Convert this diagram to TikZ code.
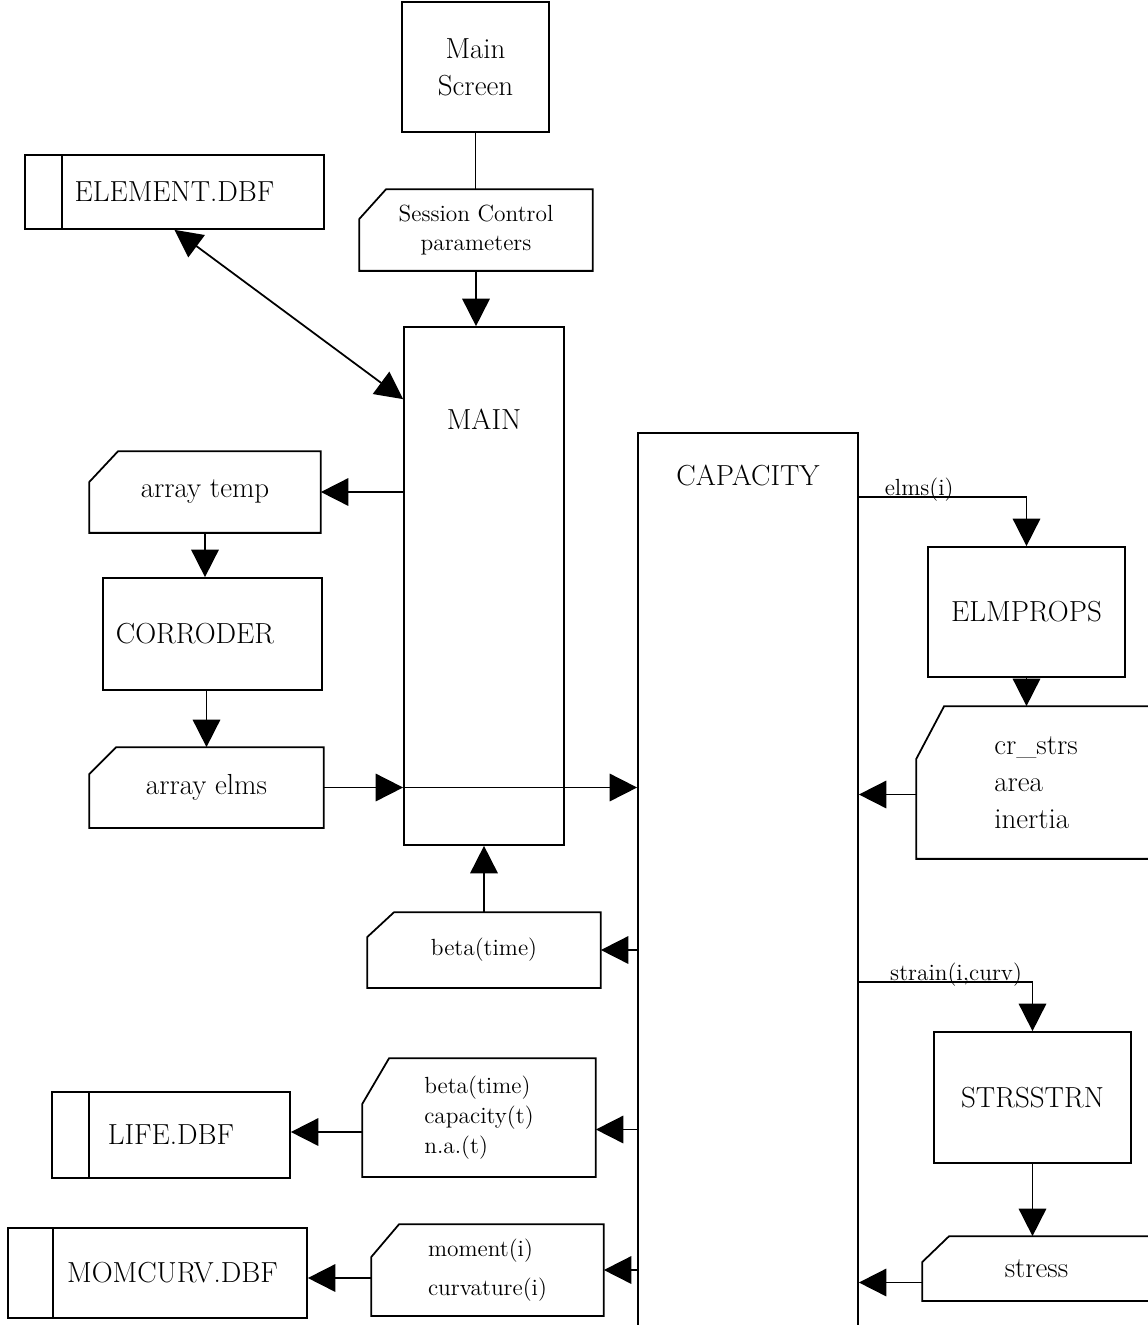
\documentclass[tikz,border=0pt]{standalone}
\usetikzlibrary{arrows.meta}

\tikzset{
	bigtxt/.style={font=\fontsize{16.5}{21}\selectfont},
	smalltxt/.style={font=\fontsize{13.3}{17}\selectfont},
	proc/.style={draw, rectangle, bigtxt},
	datain/.style={rectangle},
	dbfile/.style={draw, rectangle, bigtxt,
		path picture={\draw ([xshift=#1]path picture bounding box.north west)
			-- ([xshift=#1]path picture bounding box.south west);}},
	dbfile/.default=0.74cm
}

\begin{document}
\begin{tikzpicture}[x=0.02cm, y=-0.02cm, line width=1pt, >={Triangle[length=0.55cm,width=0.55cm]}]
	\clip (0,0) rectangle (1148,1325);

	% programs
	\node[proc, align=center, minimum width=2.94cm, minimum height=2.6cm] (mainscr) at (475.5,67) {Main\\Screen};
	\node[proc, minimum width=3.2cm, minimum height=10.36cm,
		label={[bigtxt, anchor=center, yshift=-1.86cm]north:MAIN}] (main) at (484,586) {};
	\node[proc, minimum width=4.4cm, minimum height=18.24cm,
		label={[bigtxt, anchor=center, yshift=-0.86cm]north:CAPACITY}] (capacity) at (748,889) {};
	\node[proc, minimum width=4.38cm, minimum height=2.24cm] (corroder) at (212.5,634) {CORRODER\hspace*{0.7cm}};
	\node[proc, minimum width=3.94cm, minimum height=2.6cm] (elmprops) at (1026.5,612) {ELMPROPS};
	\node[proc, minimum width=3.94cm, minimum height=2.62cm] (strsstrn) at (1032.5,1097.5) {STRSSTRN};

	% data
	\node[datain, smalltxt, align=center, minimum width=4.64cm, minimum height=1.6cm] (session) at (476,230) {Session Control\\parameters};
	\node[datain, bigtxt, minimum width=4.6cm, minimum height=1.6cm] (arrtemp) at (205,492) {array temp};
	\node[datain, bigtxt, minimum width=4.66cm, minimum height=1.58cm] (arrelms) at (206.5,787.5) {array elms};
	\node[datain, bigtxt, align=left, minimum width=4.76cm, minimum height=3.02cm] (props) at (1036,782.5) {cr\_strs\\area\\inertia};
	\node[datain, smalltxt, minimum width=4.64cm, minimum height=1.48cm] (beta) at (484,950) {beta(time)};
	\node[datain, bigtxt, minimum width=4.54cm, minimum height=1.26cm] (stress) at (1036.5,1268.5) {stress};
	\node[datain, smalltxt, align=left, minimum width=4.64cm, minimum height=2.34cm] (lifeinfo) at (479,1117.5) {beta(time)\\capacity(t)\\n.a.(t)};
	\node[datain, font=\fontsize{13.3}{22}\selectfont, align=left, minimum width=4.62cm, minimum height=1.8cm] (mominfo) at (487.5,1270) {moment(i)\\curvature(i)};

	% cut corner of the data boxes
	\foreach \n/\cx/\cy in {session/0.54/0.6, arrtemp/0.58/0.62, arrelms/0.54/0.54, props/0.56/1.06,
		beta/0.54/0.5, stress/0.54/0.52, lifeinfo/0.54/0.92, mominfo/0.56/0.66}
		\draw (\n.south west) -- ([yshift=-\cy cm]\n.north west) -- ([xshift=\cx cm]\n.north west)
			-- (\n.north east) -- (\n.south east) -- cycle;

	% files
	\node[dbfile, minimum width=5.98cm, minimum height=1.48cm] (elemdb) at (174.5,192) {ELEMENT.DBF};
	\node[dbfile, minimum width=4.76cm, minimum height=1.72cm] (lifedb) at (171,1135) {LIFE.DBF};
	\node[dbfile=0.9cm, minimum width=5.98cm, minimum height=1.8cm] (momdb) at (157.5,1273) {\hspace*{0.6cm}MOMCURV.DBF};

	% flows
	\draw (mainscr.south) -- (mainscr.south |- session.north);
	\draw[->] (session.south) -- (session.south |- main.north);
	\draw[<->] (elemdb.south) -- ([yshift=-1.46cm]main.north west);
	\draw[->] (arrtemp.east -| main.west) -- (arrtemp.east);
	\draw[->] (arrtemp.south) -- (arrtemp.south |- corroder.north);
	\draw[->] (arrelms.north |- corroder.south) -- (arrelms.north);
	\draw[->] (arrelms.east) -- (arrelms.east -| main.west);
	\draw[->] (arrelms.east -| main.west) -- (arrelms.east -| capacity.west);
	\draw[->] (beta.north) -- (beta.north |- main.south);

	\draw[->] ([yshift=-1.3cm]capacity.north east) -| node[pos=0.18, anchor=base, yshift=1pt, smalltxt] {elms(i)} (elmprops.north);
	\draw[->] (elmprops.south) -- (elmprops.south |- props.north);
	\draw[->] ([yshift=-0.24cm]props.west) -- ([yshift=-0.24cm]props.west -| capacity.east);
	\draw[->] ([yshift=-11cm]capacity.north east) -| node[pos=0.28, anchor=base, yshift=1pt, smalltxt] {strain(i,curv)} (strsstrn.north);
	\draw[->] (strsstrn.south) -- (strsstrn.south |- stress.north);
	\draw[->] ([yshift=-0.28cm]stress.west) -- ([yshift=-0.28cm]stress.west -| capacity.east);

	\draw[->] (beta.east -| capacity.west) -- (beta.east);
	\draw[->] ([yshift=-0.24cm]lifeinfo.east -| capacity.west) -- ([yshift=-0.24cm]lifeinfo.east);
	\draw[->] ([yshift=-0.29cm]lifeinfo.west) -- ([yshift=-0.29cm]lifeinfo.west -| lifedb.east);
	\draw[->] (mominfo.east -| capacity.west) -- (mominfo.east);
	\draw[->] ([yshift=-0.16cm]mominfo.west) -- ([yshift=-0.16cm]mominfo.west -| momdb.east);
\end{tikzpicture}
\end{document}
